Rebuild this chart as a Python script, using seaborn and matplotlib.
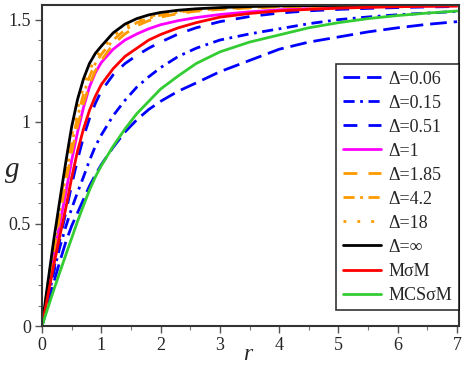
import numpy as np
import pandas as pd
import matplotlib
matplotlib.use("Agg")
import matplotlib.pyplot as plt
from matplotlib.ticker import MultipleLocator
import seaborn as sns

sns.set_style("white")
plt.rcParams["font.family"] = ["Liberation Serif", "DejaVu Serif"]

# r grid shared by every curve
r = [0, 0.1, 0.2, 0.3, 0.4, 0.5, 0.6, 0.7, 0.8, 0.9, 1.0, 1.2, 1.4, 1.6, 1.8, 2.0,
     2.3, 2.6, 3.0, 3.5, 4.0, 4.5, 5.0, 5.5, 6.0, 6.5, 7.0]

g_d006 = [0, 0.107, 0.215, 0.315, 0.41, 0.49, 0.555, 0.62, 0.685, 0.74, 0.79, 0.875, 0.95, 1.01,
          1.06, 1.10, 1.15, 1.19, 1.245, 1.30, 1.355, 1.39, 1.415, 1.44, 1.46, 1.477, 1.49]
g_d015 = [0, 0.13, 0.265, 0.385, 0.485, 0.575, 0.655, 0.73, 0.81, 0.88, 0.935, 1.03, 1.105, 1.17,
          1.22, 1.265, 1.32, 1.36, 1.40, 1.43, 1.455, 1.48, 1.50, 1.513, 1.524, 1.532, 1.54]
g_d051 = [0, 0.14, 0.28, 0.42, 0.555, 0.69, 0.815, 0.925, 1.015, 1.09, 1.15, 1.23, 1.285, 1.325,
          1.36, 1.39, 1.43, 1.46, 1.49, 1.515, 1.532, 1.543, 1.55, 1.555, 1.559, 1.562, 1.564]
g_d1 = [0, 0.17, 0.34, 0.50, 0.65, 0.81, 0.95, 1.07, 1.17, 1.24, 1.29, 1.355, 1.40, 1.43,
        1.455, 1.475, 1.495, 1.51, 1.525, 1.538, 1.548, 1.554, 1.559, 1.562, 1.565, 1.567, 1.568]
g_d185 = [0, 0.185, 0.365, 0.54, 0.70, 0.85, 0.98, 1.09, 1.18, 1.25, 1.30, 1.38, 1.43, 1.47,
          1.495, 1.512, 1.53, 1.541, 1.55, 1.557, 1.562, 1.565, 1.567, 1.568, 1.569, 1.5695, 1.570]
g_d42 = [0, 0.195, 0.385, 0.565, 0.735, 0.89, 1.025, 1.135, 1.22, 1.285, 1.33, 1.40, 1.45, 1.485,
         1.507, 1.522, 1.537, 1.546, 1.554, 1.56, 1.564, 1.566, 1.5675, 1.5685, 1.569, 1.5695, 1.570]
g_d18 = [0, 0.205, 0.405, 0.59, 0.765, 0.93, 1.065, 1.17, 1.25, 1.31, 1.35, 1.42, 1.465, 1.495,
         1.515, 1.528, 1.541, 1.549, 1.556, 1.562, 1.565, 1.567, 1.568, 1.569, 1.5695, 1.570, 1.5703]
g_dinf = [0, 0.215, 0.425, 0.615, 0.80, 0.975, 1.11, 1.21, 1.285, 1.335, 1.37, 1.435, 1.478, 1.505,
          1.523, 1.535, 1.546, 1.553, 1.559, 1.564, 1.567, 1.5685, 1.5695, 1.570, 1.5703, 1.5705, 1.5706]
g_msm = [0, 0.15, 0.30, 0.44, 0.575, 0.725, 0.857, 0.965, 1.055, 1.125, 1.182, 1.26, 1.32, 1.36,
         1.40, 1.427, 1.46, 1.485, 1.512, 1.53, 1.543, 1.55, 1.556, 1.56, 1.563, 1.565, 1.566]
g_mcs = [0, 0.09, 0.178, 0.263, 0.347, 0.43, 0.513, 0.59, 0.665, 0.73, 0.785, 0.88, 0.965, 1.04,
         1.10, 1.16, 1.225, 1.285, 1.342, 1.39, 1.425, 1.46, 1.485, 1.505, 1.52, 1.532, 1.542]

labels = ["Δ=0.06", "Δ=0.15", "Δ=0.51", "Δ=1", "Δ=1.85", "Δ=4.2", "Δ=18", "Δ=∞", "MσM", "MCSσM"]
series = [g_d006, g_d015, g_d051, g_d1, g_d185, g_d42, g_d18, g_dinf, g_msm, g_mcs]

colors = ["#0000ff", "#0000ff", "#0000ff", "#ff00ff", "#ff9900", "#ff9900", "#ff9900",
          "#000000", "#ff0000", "#33cc33"]
dashes = [(6, 2.5), (4, 2, 1, 2), (5, 4), "", (5, 4), (4, 2, 1, 2), (1, 4), "", "", ""]

df = pd.concat([pd.DataFrame({"r": r, "g": g, "curve": lab}) for lab, g in zip(labels, series)],
               ignore_index=True)

fig = plt.figure(figsize=(4.63, 3.68), dpi=100)
ax = fig.add_axes([0.0907, 0.114, 0.9003, 0.872])

sns.lineplot(data=df, x="r", y="g", hue="curve", style="curve",
             hue_order=labels, style_order=labels,
             palette=dict(zip(labels, colors)), dashes=dict(zip(labels, dashes)),
             linewidth=2.0, ax=ax, legend=True)

ax.set_xlim(0, 7.03)
ax.set_ylim(0, np.pi / 2)
ax.xaxis.set_major_locator(MultipleLocator(1))
ax.xaxis.set_minor_locator(MultipleLocator(0.5))
ax.yaxis.set_major_locator(MultipleLocator(0.5))
ax.yaxis.set_minor_locator(MultipleLocator(0.1))
ax.xaxis.set_major_formatter(plt.FuncFormatter(lambda v, p: f"{v:g}"))
ax.yaxis.set_major_formatter(plt.FuncFormatter(lambda v, p: f"{v:g}"))
ax.tick_params(which="major", direction="out", length=5, width=1, color="#555555",
               labelsize=13, bottom=True, left=True, pad=3)
ax.tick_params(which="minor", direction="out", length=3, width=0.8, color="#777777",
               bottom=True, left=True)
for s in ax.spines.values():
    s.set_color("#333333")
    s.set_linewidth(1.5)

ax.set_xlabel("r", fontsize=17, style="italic", va="center")
ax.set_ylabel("g", fontsize=21, style="italic", rotation=0, va="center", ha="center")
ax.xaxis.set_label_coords(0.494, -0.09)
ax.yaxis.set_label_coords(-0.072, 0.486)

leg = ax.legend(loc="upper right", bbox_to_anchor=(1.0, 0.816), borderaxespad=0,
                fontsize=13, frameon=True, fancybox=False, edgecolor="black",
                handlelength=2.1, handletextpad=0.45, labelspacing=0.39,
                borderpad=0.35, title=None)
leg.get_frame().set_linewidth(1.2)

plt.savefig("out.png", dpi=100)
